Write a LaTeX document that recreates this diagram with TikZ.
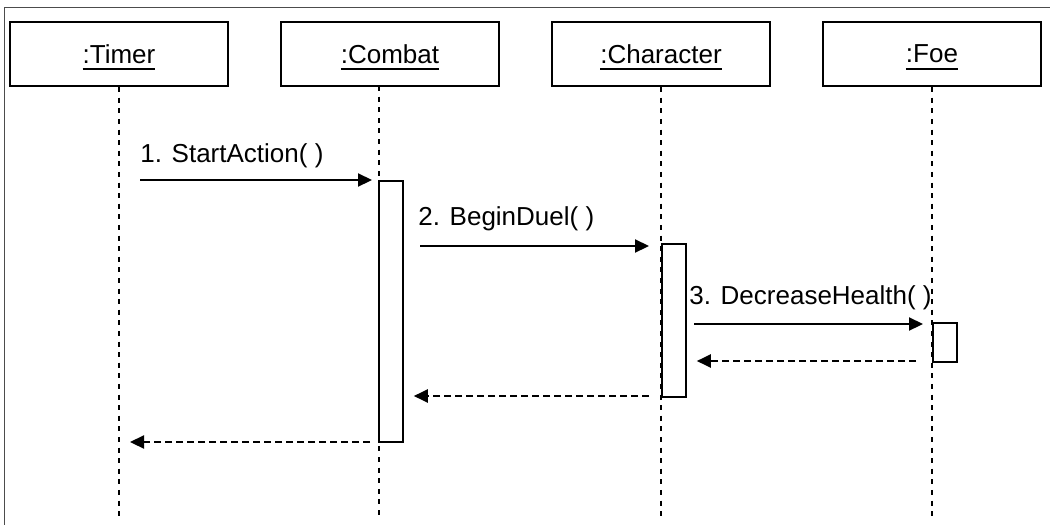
\documentclass[tikz,border=0pt]{standalone}
\usepackage{fontspec}
\setmainfont{Liberation Sans}
\usetikzlibrary{arrows.meta,positioning}
\newcommand\objname[1]{\setbox0\hbox{#1}\rlap{\smash{\rule[-3.4pt]{\wd0}{0.8pt}}}\box0}

\begin{document}
\begin{tikzpicture}[x=0.5pt, y=-0.5pt,
  every node/.style={font=\fontsize{13}{15}\selectfont},
  objbox/.style={draw, line width=1.1pt, minimum width=109pt, minimum height=32pt, inner sep=0pt},
  lifeline/.style={line width=1.4pt, dash pattern=on 2.5pt off 2.8pt},
  actbox/.style={draw, line width=0.9pt, fill=white, anchor=north west,
                 minimum width=12pt, inner sep=0pt},
  msg/.style={line width=1.1pt, -{Triangle[length=7pt,width=6.5pt]}},
  reply/.style={msg, dash pattern=on 3.3pt off 2.2pt},
  lbl/.style={anchor=base west, inner sep=0pt}
]
\useasboundingbox (0,0) rectangle (1050,525);
\draw[line width=0.5pt, black!70] (1050,7) -- (4,7) -- (4,525);

% objects
\node[objbox] (timer) at (119,54) {\objname{:Timer}};
\node[objbox] (combat) at (390,54) {\objname{:Combat}};
\node[objbox] (character) at (661,54) {\objname{:Character}};
\node[objbox] (foe) at (932,54) {\objname{:Foe}};

% lifelines
\coordinate (combattop) at (379,86);
\coordinate (timerend) at (119,517);
\coordinate (combatend) at (379,517);
\coordinate (characterend) at (661,517);
\coordinate (foeend) at (932,517);
\draw[lifeline] (timer.south) -- (timerend);
\draw[lifeline] (combattop) -- (combatend);
\draw[lifeline] (character.south) -- (characterend);
\draw[lifeline] (foe.south) -- (foeend);

% activations
\node[actbox, minimum height=130.5pt] (combatact) at (378,180) {};
\node[actbox, minimum height=76.5pt] (characteract) at (661,243) {};
\node[actbox, minimum height=19.5pt] (foeact) at (932,322) {};

% messages
\coordinate (m1) at (140,180);
\coordinate (m2) at (420,246);
\coordinate (m3) at (694,324);
\draw[msg, shorten >=3pt] (m1) -- (m1 -| combatact.west);
\draw[msg, shorten >=6pt] (m2) -- (m2 -| characteract.west);
\draw[msg, shorten >=4.5pt] (m3) -- (m3 -| foeact.west);
\node[lbl] (startlbl) at (140,162) {1. StartAction( )};
\node[lbl] (duellbl) at (418,225) {2. BeginDuel( )};
\node[lbl] (healthlbl) at (689,304) {3. DecreaseHealth( )};

% replies
\coordinate (r3) at (916,361);
\coordinate (r2) at (649,396);
\coordinate (r1) at (370,442);
\draw[reply, shorten >=5pt] (r3) -- (r3 -| characteract.east);
\draw[reply, shorten >=5pt] (r2) -- (r2 -| combatact.east);
\draw[reply, shorten >=5.5pt] (r1) -- (r1 -| timerend);
\end{tikzpicture}
\end{document}
